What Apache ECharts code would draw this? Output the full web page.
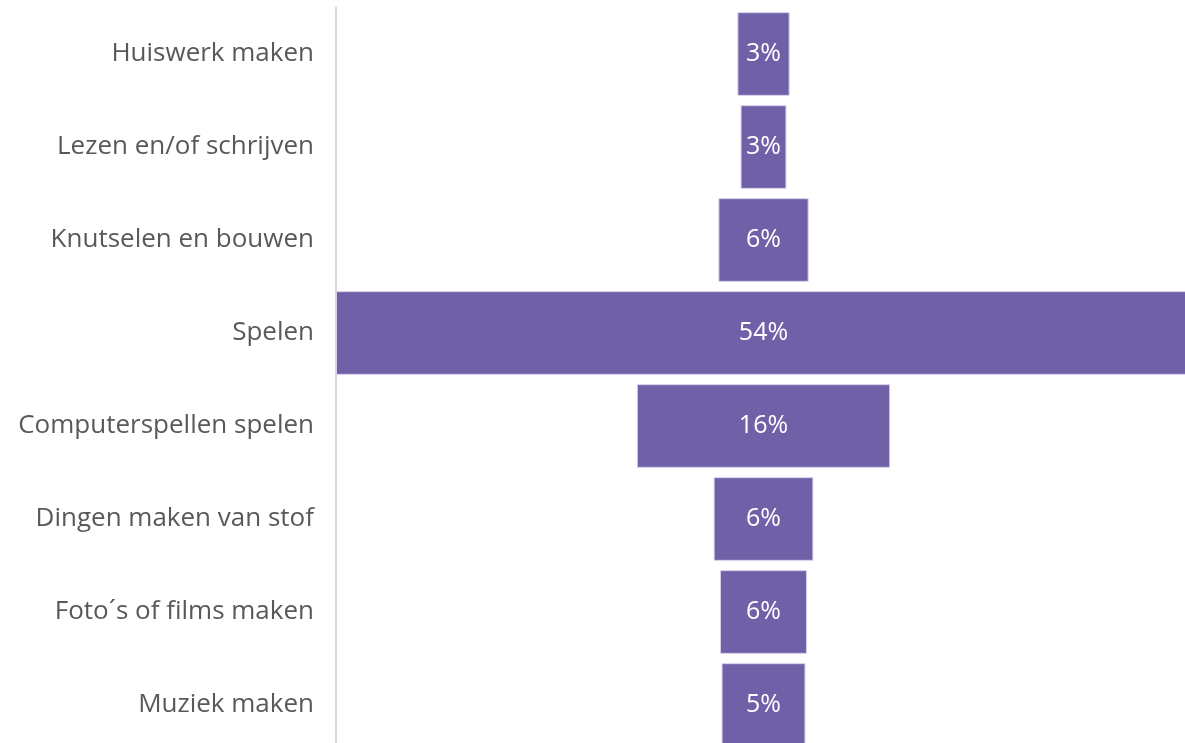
<!DOCTYPE html>
<html>
<head>
<meta charset="utf-8">
<script src="https://cdn.jsdelivr.net/npm/echarts@6/dist/echarts.min.js"></script>
<style>
  html, body { margin: 0; padding: 0; background: #fff; }
  #main { width: 1185px; height: 743px; }
</style>
</head>
<body>
<div id="main"></div>
<script>
// activiteiten, van boven naar beneden
const categories = [
    'Huiswerk maken',
    'Lezen en/of schrijven',
    'Knutselen en bouwen',
    'Spelen',
    'Computerspellen spelen',
    'Dingen maken van stof',
    'Foto\u00b4s of films maken',
    'Muziek maken'
];
const values = [3.3, 2.9, 5.7, 54, 16, 6.3, 5.5, 5.3];

const maxValue = Math.max(...values);
// onzichtbare opvulling zodat elke balk gecentreerd staat
const padding = values.map(v => (maxValue - v) / 2);

var myChart = echarts.init(document.getElementById('main'));

var option = {
    animation: false,
    grid: {
        left: 336,
        width: 855,
        top: 7.5,
        height: 744,
        containLabel: false,
        outerBoundsMode: 'none'
    },
    xAxis: {
        type: 'value',
        min: 0,
        max: maxValue,
        show: false
    },
    yAxis: {
        type: 'category',
        inverse: true,
        data: categories,
        axisLine: {show: true, lineStyle: {color: '#d9d9d9', width: 2}},
        axisTick: {show: false},
        axisLabel: {
            color: '#595959',
            fontSize: 26,
            fontFamily: 'Open Sans',
            margin: 22,
            padding: [4, 0, 0, 0]
        }
    },
    series: [
        {
            type: 'bar',
            stack: 'funnel',
            data: padding,
            itemStyle: {color: 'transparent'},
            silent: true,
            barCategoryGap: '10%'
        },
        {
            type: 'bar',
            stack: 'funnel',
            data: values,
            barCategoryGap: '10%',
            itemStyle: {color: '#7060a8', borderColor: '#d8d2ea', borderWidth: 1},
            label: {
                show: true,
                position: 'inside',
                color: '#fff',
                fontSize: 25,
                fontFamily: 'Open Sans',
                formatter: p => Math.round(p.value) + '%'
            }
        }
    ]
};

myChart.setOption(option);
</script>
</body>
</html>
